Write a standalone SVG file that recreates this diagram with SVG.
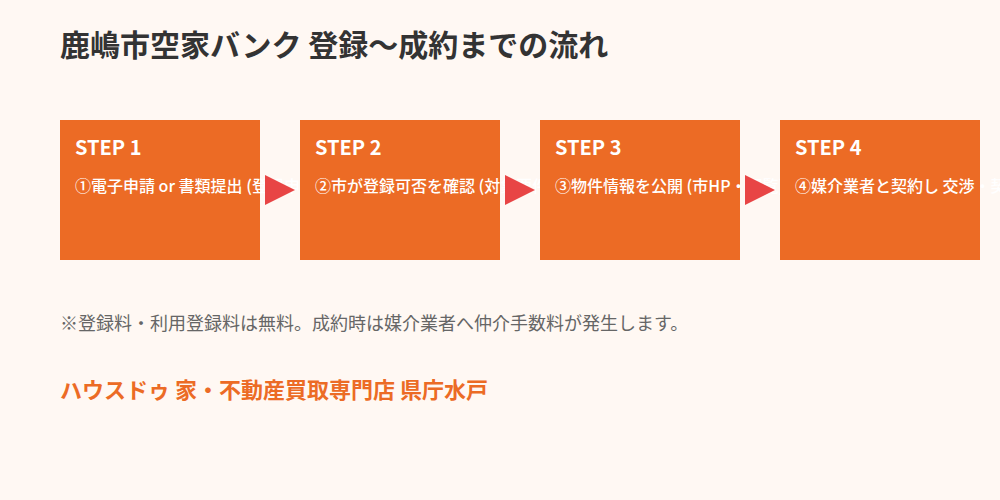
<svg xmlns="http://www.w3.org/2000/svg" width="1000" height="500" viewBox="0 0 1000 500">
<style>
.bg{fill:#FFF8F3}
.box{fill:#EC6B25}
.arrow{fill:#E84545}
.title{font-family:"Noto Sans CJK JP","Noto Sans",sans-serif;font-size:30px;font-weight:bold;fill:#333333}
.step{font-family:"Noto Sans CJK JP","Noto Sans",sans-serif;font-size:20px;font-weight:bold;fill:#FFFFFF}
.desc{font-family:"Noto Sans CJK JP","Noto Sans",sans-serif;font-size:16px;font-weight:500;fill:#FFFFFF}
.note{font-family:"Noto Sans CJK JP","Noto Sans",sans-serif;font-size:18px;fill:#666666}
.brand{font-family:"Noto Sans CJK JP","Noto Sans",sans-serif;font-size:22px;font-weight:bold;fill:#EC6B25}
</style>
<rect class="bg" x="0" y="0" width="1000" height="500"/>
<text class="title" x="60" y="56">鹿嶋市空家バンク 登録〜成約までの流れ</text>
<g id="step1">
<rect class="box" x="60" y="120" width="200" height="140"/>
<text class="step" x="75" y="155">STEP 1</text>
<text class="desc" x="75" y="192">①電子申請 or 書類提出 (登録申込書)</text>
</g>
<g id="connectors">
<polygon class="arrow" points="265,175 295,190 265,205"/>
</g>
<g id="step2">
<rect class="box" x="300" y="120" width="200" height="140"/>
<text class="step" x="315" y="155">STEP 2</text>
<text class="desc" x="315" y="192">②市が登録可否を確認 (対象要件)</text>
</g>
<g id="connectors2">
<polygon class="arrow" points="505,175 535,190 505,205"/>
</g>
<g id="step3">
<rect class="box" x="540" y="120" width="200" height="140"/>
<text class="step" x="555" y="155">STEP 3</text>
<text class="desc" x="555" y="192">③物件情報を公開 (市HP・回覧)</text>
</g>
<g id="connectors3">
<polygon class="arrow" points="745,175 775,190 745,205"/>
</g>
<g id="step4">
<rect class="box" x="780" y="120" width="200" height="140"/>
<text class="step" x="795" y="155">STEP 4</text>
<text class="desc" x="795" y="192">④媒介業者と契約し 交渉・契約</text>
</g>
<text class="note" x="60" y="330">※登録料・利用登録料は無料。成約時は媒介業者へ仲介手数料が発生します。</text>
<text class="brand" x="60" y="398">ハウスドゥ 家・不動産買取専門店 県庁水戸</text>
</svg>
